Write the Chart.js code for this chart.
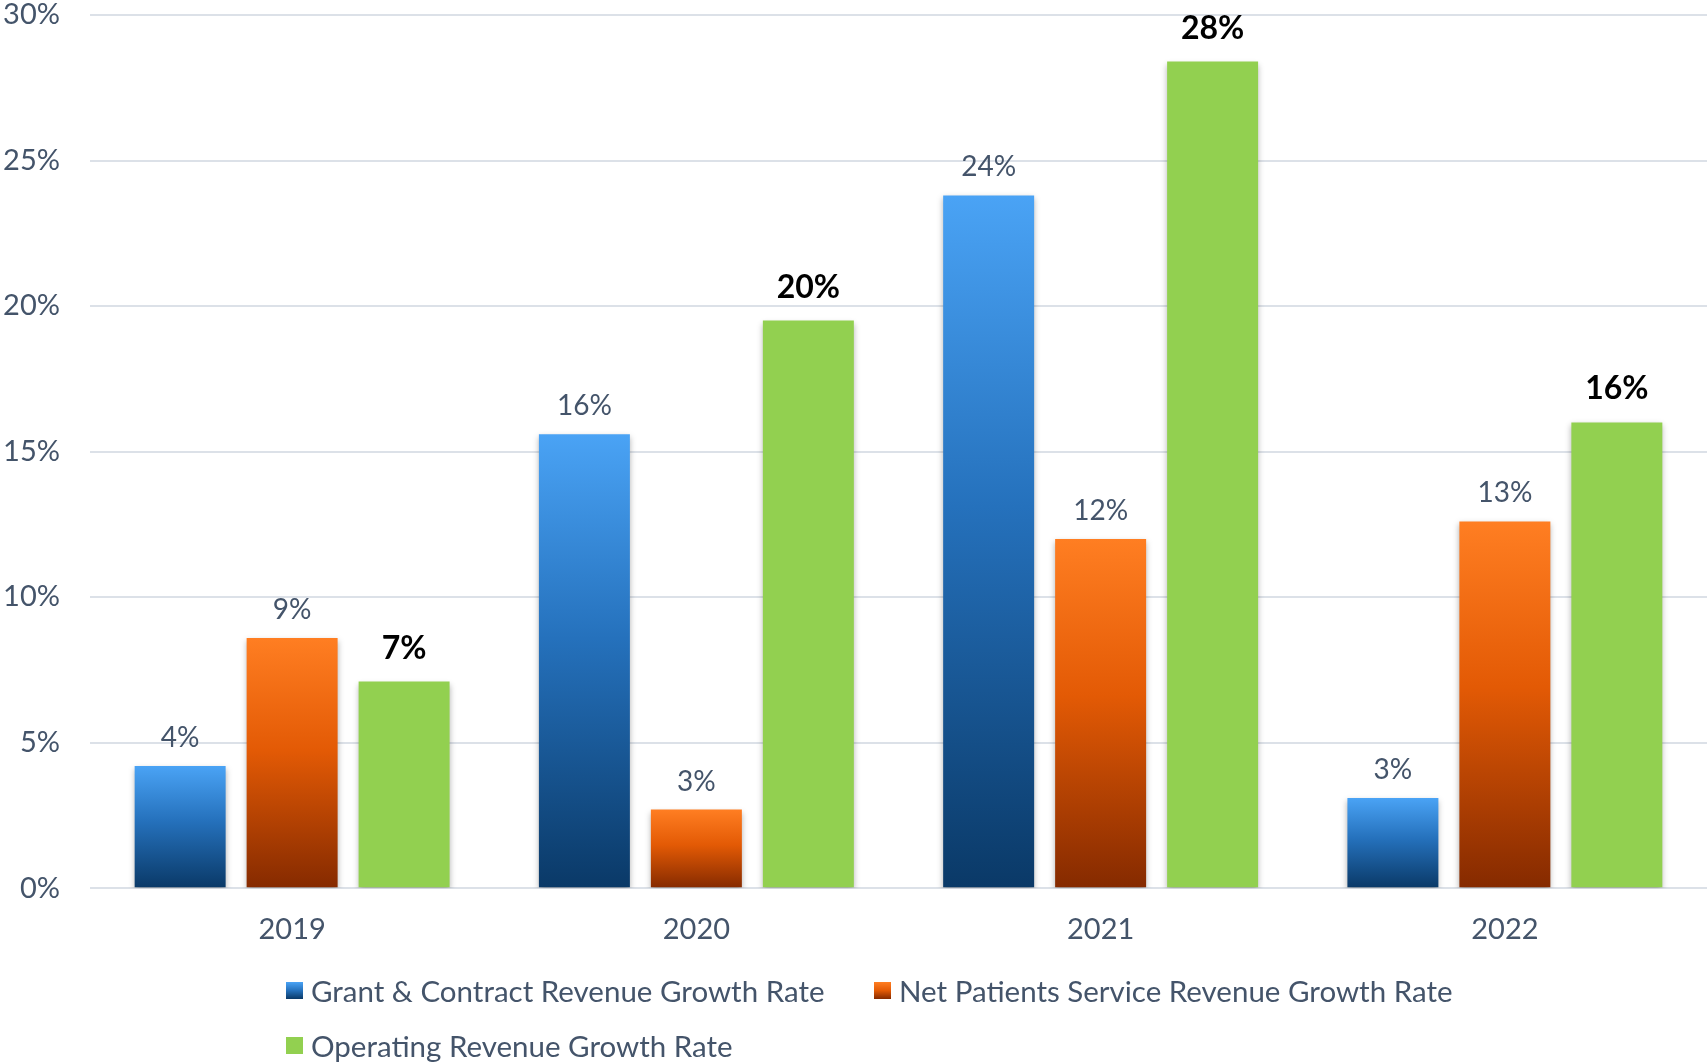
<!DOCTYPE html>
<html>
<head>
<meta charset="utf-8">
<title>Revenue Growth Rates</title>
<script src="https://cdn.jsdelivr.net/npm/chart.js@4.4.1/dist/chart.umd.min.js"></script>
<style>
  html, body { margin: 0; padding: 0; background: #fff; }
  #wrap { position: relative; width: 1707px; height: 1062px; overflow: hidden; }
  canvas { display: block; }
  #legend {
    position: absolute; left: 286px; top: 963px;
    display: grid; grid-template-columns: 588px 588px; grid-auto-rows: 55px;
    font-family: Lato, sans-serif; font-size: 29.5px; color: #44546A;
  }
  .item { display: flex; align-items: center; white-space: nowrap; }
  .swatch { width: 17px; height: 17px; margin-right: 8px; flex: none; }
</style>
</head>
<body>
<div id="wrap">
  <canvas id="myChart" width="1707" height="1062"></canvas>
  <div id="legend"></div>
</div>
<script>
const years = ['2019', '2020', '2021', '2022']
const seriesNames = [
  'Grant & Contract Revenue Growth Rate',
  'Net Patients Service Revenue Growth Rate',
  'Operating Revenue Growth Rate'
]
const grantRate = [4.2, 15.6, 23.8, 3.1]
const patientRate = [8.6, 2.7, 12.0, 12.6]
const operatingRate = [7.1, 19.5, 28.4, 16.0]
const yMax = 30
const yStep = 5

// colour stops, light at the top of each bar, dark at the base
const blueStops = ['#4AA3F5', '#2571BC', '#0A3967']
const orangeStops = ['#FF7E22', '#E35A05', '#852A00']
const green = '#92D050'

Chart.defaults.font.family = 'Lato'
Chart.defaults.color = '#44546A'

const barGradient = (stops) => (ctx) => {
  const chart = ctx.chart
  const y = chart.scales && chart.scales.y
  if (!chart.chartArea || !y || ctx.type !== 'data') return stops[0]
  const y0 = y.getPixelForValue(0)
  const y1 = y.getPixelForValue(ctx.raw)
  if (!isFinite(y0) || !isFinite(y1) || y0 === y1) return stops[0]
  const g = chart.ctx.createLinearGradient(0, y1, 0, y0)
  g.addColorStop(0, stops[0])
  g.addColorStop(0.45, stops[1])
  g.addColorStop(1, stops[2])
  return g
}

// soft shadow under the bars, then the value labels on top
const barLabels = {
  id: 'barLabels',
  beforeDatasetsDraw(chart) {
    const c = chart.ctx
    c.save()
    c.shadowColor = 'rgba(0, 0, 0, 0.3)'
    c.shadowBlur = 6
    c.shadowOffsetY = 3
  },
  afterDatasetsDraw(chart) {
    const c = chart.ctx
    c.restore()
    c.save()
    c.textAlign = 'center'
    c.textBaseline = 'alphabetic'
    chart.data.datasets.forEach((ds, i) => {
      const bold = i === 2
      c.font = bold ? 'bold 32px Lato' : '28px Lato'
      c.fillStyle = bold ? '#000000' : '#44546A'
      chart.getDatasetMeta(i).data.forEach((bar, j) => {
        c.fillText(Math.round(ds.data[j]) + '%', bar.x, bar.y - (bold ? 23 : 19))
      })
    })
    c.restore()
  }
}

const data = {
  labels: years,
  datasets: [
    { label: seriesNames[0], data: grantRate, backgroundColor: barGradient(blueStops) },
    { label: seriesNames[1], data: patientRate, backgroundColor: barGradient(orangeStops) },
    { label: seriesNames[2], data: operatingRate, backgroundColor: green }
  ]
}

const config = {
  type: 'bar',
  data: data,
  options: {
    responsive: false,
    animation: false,
    devicePixelRatio: 1,
    categoryPercentage: 0.831,
    barPercentage: 0.8125,
    layout: { padding: { top: 0, right: 0, bottom: 91, left: 0 } },
    plugins: {
      legend: { display: false },
      tooltip: { enabled: false }
    },
    scales: {
      x: {
        grid: { display: false, drawTicks: false },
        border: { display: false },
        ticks: { font: { size: 29 }, color: '#44546A', padding: 24 }
      },
      y: {
        min: 0,
        max: yMax,
        border: { display: false },
        grid: { color: '#DCE1E8', lineWidth: 2, drawTicks: false },
        ticks: {
          stepSize: yStep,
          padding: 30,
          font: { size: 29 },
          color: '#44546A',
          callback: (v) => v + '%'
        },
        afterFit: (scale) => {
          scale.width = 90
          scale.paddingTop = 15
          scale.paddingBottom = 0
        }
      }
    }
  },
  plugins: [barLabels]
}

const myChart = new Chart(document.getElementById('myChart'), config)

// legend laid out in two fixed columns
const legendBox = document.getElementById('legend')
const swatches = [
  `linear-gradient(${blueStops[0]}, ${blueStops[1]}, ${blueStops[2]})`,
  `linear-gradient(${orangeStops[0]}, ${orangeStops[1]}, ${orangeStops[2]})`,
  green
]
seriesNames.forEach((name, i) => {
  const item = document.createElement('div')
  item.className = 'item'
  const sw = document.createElement('span')
  sw.className = 'swatch'
  sw.style.background = swatches[i]
  const txt = document.createElement('span')
  txt.textContent = name
  item.appendChild(sw)
  item.appendChild(txt)
  legendBox.appendChild(item)
})
</script>
</body>
</html>
